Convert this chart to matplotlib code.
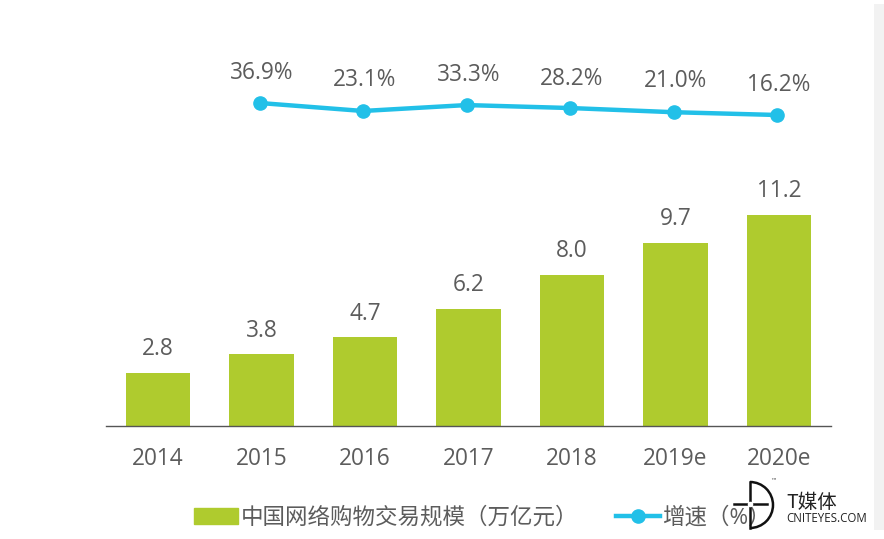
import matplotlib
matplotlib.use("Agg")
import matplotlib.pyplot as plt
from matplotlib.patches import Rectangle, Arc
from matplotlib.lines import Line2D
from matplotlib.transforms import Affine2D

years = ['2014', '2015', '2016', '2017', '2018', '2019e', '2020e']
scale_values = [2.8, 3.8, 4.7, 6.2, 8.0, 9.7, 11.2]
growth_years = ['2015', '2016', '2017', '2018', '2019e', '2020e']
growth_values = [36.9, 23.1, 33.3, 28.2, 21.0, 16.2]
bar_name = '中国网络购物交易规模（万亿元）'
line_name = '增速（%）'

FONT = ['Open Sans', 'Noto Sans CJK SC', 'DejaVu Sans']
plt.rcParams['font.family'] = FONT
W, H = 884, 539
GREY = '#5c5c5c'
GREEN = '#afcb2e'
BLUE = '#22c0e8'

fig = plt.figure(figsize=(W / 100, H / 100), dpi=100, facecolor='white')

def px_rect(l, t, r, b):
    return [l / W, 1 - b / H, (r - l) / W, (b - t) / H]

fig.add_artist(Rectangle((874 / W, 1 - 530 / H), 10 / W, 526 / H, transform=fig.transFigure,
                         facecolor='#f2f2f2', edgecolor='none'))

ax = fig.add_axes(px_rect(106.25, 60, 830.75, 426))
ax.patch.set_alpha(0)
x = list(range(len(years)))
bars = ax.bar(x, scale_values, width=0.62, color=GREEN, label=bar_name, zorder=2)
ax.set_xlim(-0.5, 6.5)
ax.set_ylim(0, 19.43)
ax.set_xticks(x, years)
ax.set_yticks([])
for s in ['top', 'left', 'right']:
    ax.spines[s].set_visible(False)
ax.spines['bottom'].set_color('#555555')
ax.spines['bottom'].set_linewidth(1.0)
ax.tick_params(axis='x', length=0, pad=15, labelsize=16.3, labelcolor=GREY)
for xi, v in zip(x, scale_values):
    ax.annotate(f'{v:.1f}', (xi, v), xytext=(0, 8.5), textcoords='offset points',
                ha='center', va='bottom', fontsize=16.3, color=GREY)

ax2 = ax.twinx()
ax2.patch.set_alpha(0)
ax2.set_ylim(-520, 111)
ax2.set_yticks([])
for s in ax2.spines.values():
    s.set_visible(False)
gx = [years.index(y) for y in growth_years]
line, = ax2.plot(gx, growth_values, color=BLUE, lw=3.2, marker='o', ms=9.5,
                 label=line_name, zorder=3)
line.set_transform(ax2.transData + Affine2D().translate(-2, 0))
offs = {0: 13, 1: 13.5, 2: 13, 3: 12.5, 4: 13.5, 5: 13}
for i, (xi, v) in enumerate(zip(gx, growth_values)):
    ax2.annotate(f'{v:.1f}%', (xi, v), xytext=(0, offs[i]), textcoords='offset points',
                 ha='center', va='bottom', fontsize=16.3, color=GREY)

handles = [Rectangle((0, 0), 1, 1, color=GREEN), Line2D([], [], color=BLUE, lw=3.2, marker='o', ms=9.5)]
leg = fig.legend(handles, [bar_name, line_name], loc='center left',
                 bbox_to_anchor=(174 / W, 1 - 518 / H), frameon=False, ncol=2,
                 fontsize=16.2, labelcolor=GREY, handlelength=1.96, handleheight=0.72,
                 handletextpad=0.12, columnspacing=1.65, borderpad=0.4)
leg.set_zorder(1)

# Watermark logo
lax = fig.add_axes([0, 0, 1, 1], zorder=5)
lax.set_xlim(0, W)
lax.set_ylim(H, 0)
lax.axis('off')
lax.patch.set_alpha(0)
lax.add_patch(Arc((750, 505), 46, 46, theta1=-90, theta2=90, color='#111111', lw=1.8))
lax.plot([750, 750], [482, 528], color='#111111', lw=1.8)
lax.plot([734, 767], [504, 504], color='#111111', lw=1.8)
lax.plot([750], [504], marker='o', ms=3, color='white')
lax.text(786, 503, 'T媒体', fontsize=14, color='#222222', va='center', ha='left',
         family=['Noto Sans CJK SC', 'DejaVu Sans'])
lax.text(786, 519, 'CNITEYES.COM', fontsize=8.3, color='#222222', va='center', ha='left',
         family=['Open Sans', 'DejaVu Sans'])
lax.text(770, 482, '™', fontsize=4.5, color='#444444', va='center', ha='left',
         family=['DejaVu Sans'])

fig.savefig('out.png', dpi=100)
